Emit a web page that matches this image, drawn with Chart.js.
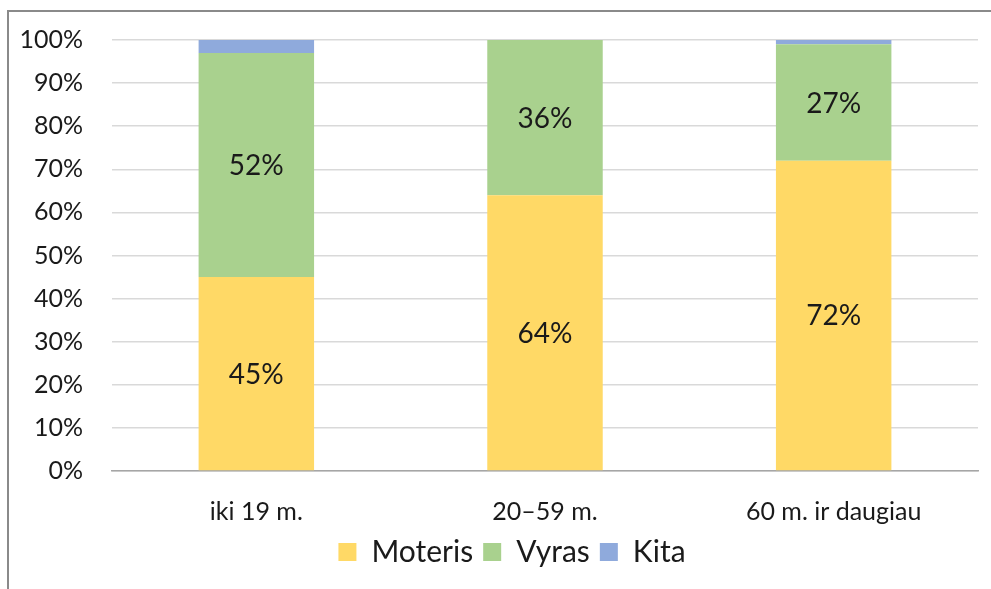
<!DOCTYPE html>
<html>
<head>
<meta charset="utf-8">
<script src="https://cdn.jsdelivr.net/npm/chart.js@4/dist/chart.umd.min.js"></script>
<style>
html,body{margin:0;padding:0;background:#fff;}
#c{display:block;}
</style>
</head>
<body>
<canvas id="c" width="991" height="589"></canvas>
<script>
const categories = ['iki 19 m.', '20–59 m.', '60 m. ir daugiau'];
const seriesNames = ['Moteris', 'Vyras', 'Kita'];
const moteris = [45, 64, 72];
const vyras = [52, 36, 27];
const kita = [3, 0, 1];
const yTicks = [0, 10, 20, 30, 40, 50, 60, 70, 80, 90, 100];

const FONT = 'Lato, "Open Sans", sans-serif';

const frame = {
  id: 'frame',
  beforeDraw(chart) {
    const ctx = chart.ctx;
    ctx.save();
    ctx.fillStyle = '#fff';
    ctx.fillRect(0, 0, chart.width, chart.height);
    ctx.strokeStyle = '#8a8a8a';
    ctx.lineWidth = 2;
    ctx.beginPath();
    ctx.moveTo(8, chart.height);
    ctx.lineTo(8, 11);
    ctx.lineTo(chart.width, 11);
    ctx.stroke();
    ctx.restore();
  }
};

const legendShift = {
  id: 'legendShift',
  afterLayout(chart) {
    const lg = chart.legend;
    if (lg) { lg.left += 23; lg.right += 23; }
  }
};

const segLabels = {
  id: 'segLabels',
  afterDatasetsDraw(chart) {
    const ctx = chart.ctx;
    ctx.save();
    ctx.font = '28px ' + FONT;
    ctx.fillStyle = '#1a1a1a';
    ctx.textAlign = 'center';
    ctx.textBaseline = 'middle';
    [0, 1].forEach(di => {
      const meta = chart.getDatasetMeta(di);
      const ds = chart.data.datasets[di];
      meta.data.forEach((bar, i) => {
        const v = ds.data[i];
        if (!v) return;
        const p = bar.getProps(['x', 'y', 'base'], true);
        ctx.fillText(v + '%', p.x, (p.y + p.base) / 2 + 1);
      });
    });
    ctx.restore();
  }
};

new Chart(document.getElementById('c'), {
  type: 'bar',
  data: {
    labels: categories,
    datasets: [
      { label: seriesNames[0], data: moteris, backgroundColor: '#FFD966' },
      { label: seriesNames[1], data: vyras, backgroundColor: '#A9D18E' },
      { label: seriesNames[2], data: kita, backgroundColor: '#8FAADC' }
    ]
  },
  options: {
    responsive: false,
    animation: false,
    devicePixelRatio: 1,
    barPercentage: 0.4,
    categoryPercentage: 1,
    layout: { padding: { top: 40, right: 13, left: 0, bottom: 12 } },
    plugins: {
      tooltip: { enabled: false },
      legend: {
        position: 'bottom',
        labels: {
          font: { family: FONT, size: 30 },
          color: '#1a1a1a',
          boxWidth: 18,
          boxHeight: 18,
          padding: 10
        }
      }
    },
    scales: {
      x: {
        stacked: true,
        grid: { display: false, drawTicks: false },
        border: { display: true, color: '#A6A6A6', width: 1.5 },
        ticks: { font: { family: FONT, size: 25 }, color: '#1a1a1a', padding: 26 },
        afterFit(s) { s.height = 56; }
      },
      y: {
        stacked: true,
        min: 0,
        max: 100,
        afterBuildTicks(s) { s.ticks = yTicks.map(v => ({ value: v })); },
        grid: { color: '#D9D9D9', lineWidth: 1.5, drawTicks: false },
        border: { display: false },
        ticks: {
          font: { family: FONT, size: 25, lineHeight: 0.4 },
          color: '#1a1a1a',
          padding: 29,
          callback: v => v + '%'
        },
        afterFit(s) { s.width = 112; }
      }
    }
  },
  plugins: [frame, legendShift, segLabels]
});
</script>
</body>
</html>
